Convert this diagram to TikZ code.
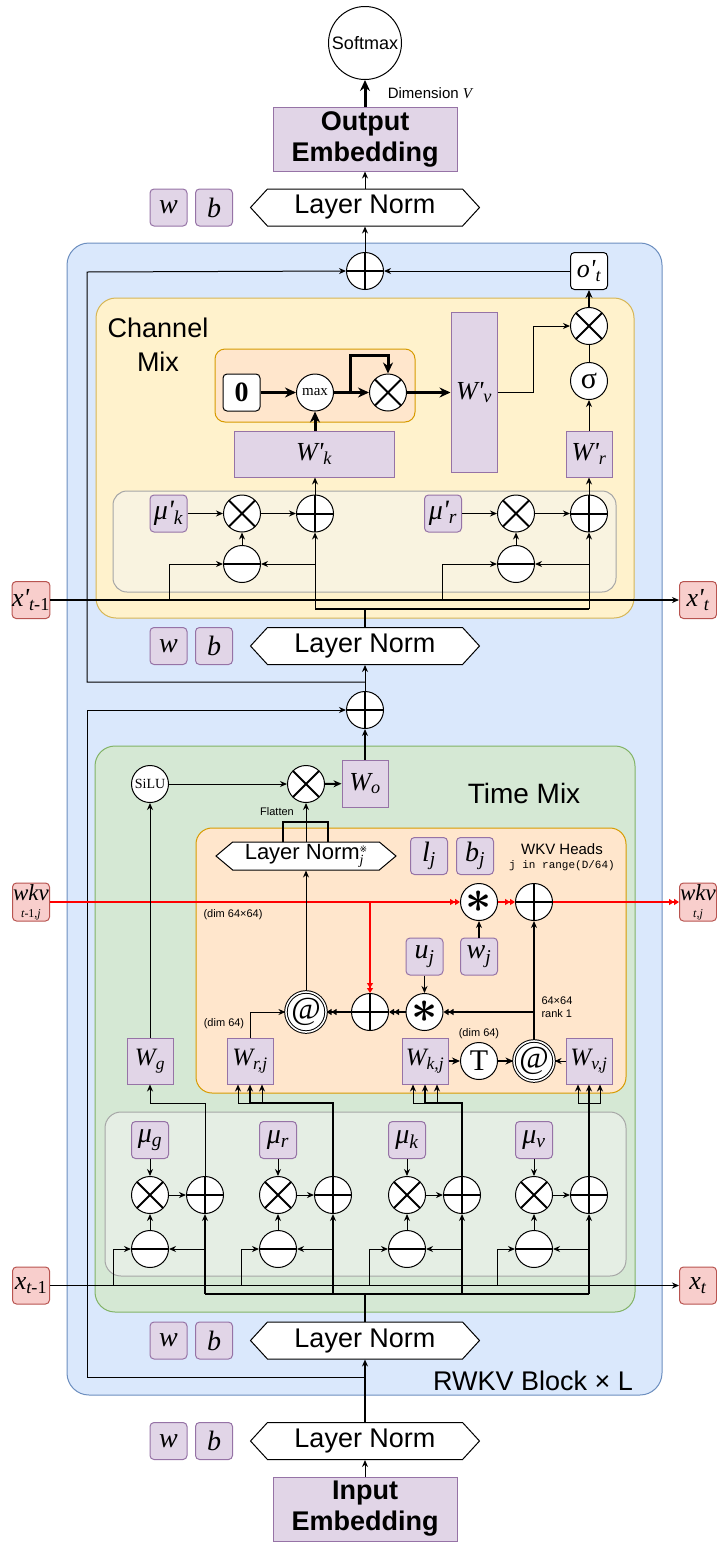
\documentclass[tikz,border=0pt]{standalone}
\usepackage{fontspec}
\setmainfont{Liberation Serif}
\setsansfont{Liberation Sans}
\setmonofont{Liberation Mono}
\newfontfamily\symfnt{DejaVu Sans}
\usetikzlibrary{arrows.meta,shapes.symbols}
\definecolor{blockF}{HTML}{DAE8FC}
\definecolor{blockD}{HTML}{6C8EBF}
\definecolor{chanF}{HTML}{FFF2CC}
\definecolor{chanD}{HTML}{D6B656}
\definecolor{timeF}{HTML}{D5E8D4}
\definecolor{timeD}{HTML}{82B366}
\definecolor{headF}{HTML}{FFE6CC}
\definecolor{headD}{HTML}{D79B00}
\definecolor{mixF}{HTML}{F5F5F5}
\definecolor{parF}{HTML}{E1D5E7}
\definecolor{parD}{HTML}{9673A6}
\definecolor{stF}{HTML}{F8CECC}
\definecolor{stD}{HTML}{B85450}
\newcommand{\fs}[1]{\fontsize{#1}{#1}\selectfont}
\newcommand{\pr}{\textquotesingle}
\newcommand{\bigast}{\scalebox{2.2}{\boldmath$\ast$}}
\tikzset{
  arr/.style={-{Stealth[length=7pt,width=6pt]}, line width=1pt},
  thk/.style={-{Stealth[length=11pt,width=10pt]}, line width=3pt},
  mid/.style={-{Stealth[length=8pt,width=7pt]}, line width=2pt},
  dbl/.style={-{Triangle[length=5pt,width=6pt]Triangle[length=5pt,width=6pt]}, line width=1.2pt},
  param/.style={draw=parD, fill=parF, rounded corners=4pt, minimum width=37pt, minimum height=37pt, inner sep=0pt, font=\fs{28}\itshape},
  weight/.style={draw=parD, fill=parF, inner sep=0pt, font=\fs{26}\itshape},
  statebox/.style={draw=stD, fill=stF, rounded corners=4pt, minimum width=37pt, minimum height=37pt, inner sep=0pt, font=\fs{26}\itshape},
  plainbox/.style={draw, fill=white, rounded corners=4pt, minimum width=37pt, minimum height=37pt, inner sep=0pt},
  opc/.style={circle, draw, fill=white, minimum size=37pt, inner sep=0pt},
  addop/.style={opc, path picture={\draw[line width=2pt] (path picture bounding box.north) -- (path picture bounding box.south) (path picture bounding box.west) -- (path picture bounding box.east);}},
  mulop/.style={opc, path picture={\draw[line width=2pt] (path picture bounding box.north west) -- (path picture bounding box.south east) (path picture bounding box.north east) -- (path picture bounding box.south west);}},
  subop/.style={opc, path picture={\draw[line width=2pt] (path picture bounding box.west) -- (path picture bounding box.east);}},
  atop/.style={opc, double, double distance=1.5pt, font=\fs{32}},
  astop/.style={opc, font=\fs{20}},
  lnorm/.style={signal, signal to=west and east, signal pointer angle=95, draw, fill=white, minimum width=229pt, minimum height=37pt, inner sep=0pt, font=\sffamily\fs{27}},
  txt/.style={font=\sffamily\fs{11}, inner sep=0pt},
}
\begin{document}
\begin{tikzpicture}[x=1pt, y=-1pt, line width=1pt]
  \useasboundingbox (0,0) rectangle (716,1545);
  % Panels
  \draw[blockD, fill=blockF, rounded corners=22pt] (67,243) rectangle (662,1395);
  \draw[chanD, fill=chanF, rounded corners=20pt] (96,298) rectangle (634,618);
  \draw[headD, fill=headF, rounded corners=10pt] (215,349) rectangle (415,422);
  \draw[black!35, fill=mixF, fill opacity=0.5, rounded corners=14pt] (113,491) rectangle (616,592);
  \draw[timeD, fill=timeF, rounded corners=20pt] (95,746) rectangle (635,1312);
  \draw[headD, fill=headF, rounded corners=16pt] (196,828) rectangle (626,1093);
  \draw[black!35, fill=mixF, fill opacity=0.5, rounded corners=16pt] (105,1112) rectangle (626,1276);

  % Output head
  \node[circle, draw, fill=white, minimum size=73pt, inner sep=0pt, font=\sffamily\fs{18}] (softmax) at (365,43) {Softmax};
  \node[anchor=west, font=\sffamily\fs{15}] (dimlbl) at (384,93) {Dimension {\rmfamily\itshape V}};
  \node[weight, minimum width=184pt, minimum height=64pt, align=center, font=\sffamily\bfseries\fontsize{27}{31}\selectfont] (outemb) at (365,139) {Output\\Embedding};
  \node[lnorm] (lntop) at (365,207.5) {Layer Norm};
  \node[param] (wtop) at (168.5,207.5) {w};
  \node[param] (btop) at (214,207.5) {b};

  % Channel mix
  \node[addop] (addtop) at (365,271) {};
  \node[plainbox, font=\fs{26}\itshape] (ot) at (589,271) {o\pr\textsubscript{t}};
  \node[font=\sffamily\fontsize{27}{34}\selectfont, align=center] (chanlbl) at (158,345) {Channel\\Mix};
  \node[plainbox, font=\fs{28}\bfseries] (zero) at (241.5,392.5) {0};
  \node[opc, font=\fs{15}] (maxc) at (315,392.5) {max};
  \node[mulop] (sqmul) at (388,392.5) {};
  \node[weight, minimum width=46pt, minimum height=160pt] (Wv) at (474,392.5) {W\pr\textsubscript{v}};
  \node[weight, minimum width=160pt, minimum height=46pt] (Wk) at (314,454) {W\pr\textsubscript{k}};
  \node[weight, minimum width=46pt, minimum height=46pt] (Wr) at (589,454) {W\pr\textsubscript{r}};
  \node[opc, font=\fs{30}] (sigma) at (589,381) {σ};
  \node[mulop] (gatemul) at (589,326) {};
  \node[param] (mukp) at (168.5,513.5) {μ\pr\textsubscript{k}};
  \node[mulop] (mulkp) at (242,513.5) {};
  \node[addop] (addkp) at (315,513.5) {};
  \node[subop] (subkp) at (242,564) {};
  \node[param] (murp) at (443,513.5) {μ\pr\textsubscript{r}};
  \node[mulop] (mulrp) at (516,513.5) {};
  \node[addop] (addrp) at (589,513.5) {};
  \node[subop] (subrp) at (516,564) {};
  \node[statebox] (xpprev) at (31,600) {x\pr\textsubscript{t\upshape -1}};
  \node[statebox] (xpnext) at (698,600) {x\pr\textsubscript{t}};
  \node[lnorm] (lnc) at (365,646) {Layer Norm};
  \node[param] (wc) at (168.5,646) {w};
  \node[param] (bc) at (214,646) {b};
  \node[addop] (midadd) at (365,710) {};

  % Time mix
  \node[font=\sffamily\fs{28}] (timelbl) at (524,793) {Time Mix};
  \node[opc, font=\fs{14}] (silu) at (150,784) {SiLU};
  \node[mulop] (mulo) at (306,784) {};
  \node[weight, minimum width=46pt, minimum height=47pt] (Wo) at (365,783.5) {W\textsubscript{o}};
  \node[font=\sffamily\fs{11}] (flatlbl) at (277,812) {Flatten};
  \node[lnorm, minimum width=180pt, minimum height=28pt, signal pointer angle=80, font=\sffamily\fs{22}] (lnj) at (306,856) {Layer Norm\rlap{\raisebox{-5pt}{\fs{14}\rmfamily\itshape j}}\raisebox{7pt}{\symfnt\fs{9}※}};
  \node[param] (lj) at (429,856) {l\textsubscript{j}};
  \node[param] (bj) at (475,856) {b\textsubscript{j}};
  \node[font=\sffamily\fs{15}, inner sep=0pt] (headlbl) at (562,849) {WKV Heads};
  \node[font=\ttfamily\fs{11}, inner sep=0pt] (rangelbl) at (562,866) {j in range(D/64)};
  \node[statebox, minimum height=38pt, align=center, font=\fs{23}\itshape] (wkvprev) at (31,902) {wkv\\[-6pt]{\fs{12}t\upshape -1,\itshape j}};
  \node[statebox, minimum height=38pt, align=center, font=\fs{23}\itshape] (wkvnext) at (698,902) {wkv\\[-6pt]{\fs{12}t,j}};
  \node[astop] (astt) at (479,902) {\bigast};
  \node[addop] (addwkv) at (534,902) {};
  \node[param] (wj) at (479,956.5) {w\textsubscript{j}};
  \node[param] (uj) at (424.5,956.5) {u\textsubscript{j}};
  \node[txt] (dimA) at (233,915) {(dim 64×64)};
  \node[atop] (atl) at (306,1012) {@};
  \node[addop] (addm) at (370,1012) {};
  \node[astop] (astm) at (424.5,1012) {\bigast};
  \node[txt, anchor=west] (rankA) at (541,1001) {64×64};
  \node[txt, anchor=west] (rankB) at (541,1014) {rank 1};
  \node[txt] (dimB) at (224,1024) {(dim 64)};
  \node[txt] (dimC) at (479,1034) {(dim 64)};
  \node[weight, minimum size=46pt, font=\fs{25}\itshape] (Wg) at (150,1061) {W\textsubscript{g}};
  \node[weight, minimum size=46pt, font=\fs{25}\itshape] (Wrj) at (250,1061) {W\textsubscript{r,j}};
  \node[weight, minimum size=46pt, font=\fs{25}\itshape] (Wkj) at (425,1061) {W\textsubscript{k,j}};
  \node[opc, font=\fs{30}] (T) at (479,1061) {T};
  \node[atop] (atr) at (534,1061) {@};
  \node[weight, minimum size=46pt, font=\fs{25}\itshape] (Wvj) at (589,1061) {W\textsubscript{v,j}};
  \foreach \n/\cx in {g/150, r/278, k/407, v/534} {
    \node[param] (mu\n) at (\cx,1140) {μ\textsubscript{\n}};
    \node[mulop] (mul\n) at (\cx,1195) {};
    \node[addop] (add\n) at (\cx+55,1195) {};
    \node[subop] (sub\n) at (\cx,1249) {};
  }
  \node[statebox] (xprev) at (31,1285.5) {x\textsubscript{t\upshape -1}};
  \node[statebox] (xnext) at (698,1285.5) {x\textsubscript{t}};

  % Block input
  \node[lnorm] (lnb) at (365,1340.5) {Layer Norm};
  \node[param] (wb) at (168.5,1340.5) {w};
  \node[param] (bb) at (214,1340.5) {b};
  \node[font=\sffamily\fs{27}] (blocklbl) at (533,1381) {RWKV Block × L};
  \node[lnorm] (lnin) at (365,1441) {Layer Norm};
  \node[param] (win) at (168.5,1441) {w};
  \node[param] (bin) at (214,1441) {b};
  \node[weight, minimum width=184pt, minimum height=64pt, align=center, font=\sffamily\bfseries\fontsize{27}{31}\selectfont] (inemb) at (365,1509) {Input\\Embedding};

  % Output connectors
  \draw[thk] (outemb.north) -- (softmax.south);
  \draw[arr] (lntop.north) -- (outemb.south);
  \draw[arr] (addtop.north) -- (lntop.south);
  \draw[arr] (ot.west) -- (addtop.east);
  \draw[arr] (365,682) -| (87,272) -- (addtop.west);

  % Channel mix connectors
  \draw[mid] (gatemul.north) -- (ot.south);
  \draw (sigma.north) -- (gatemul.south);
  \draw[arr] (Wr.north) -- (sigma.south);
  \draw[arr] (Wv.east) -- (533,392.5) |- (gatemul.west);
  \draw[thk] (zero) -- (maxc);
  \draw[thk] (maxc) -- (sqmul);
  \draw[thk] (350,392.5) |- (388,355) -- (sqmul.north);
  \draw[thk] (sqmul) -- (Wv.west);
  \draw[thk] (maxc |- Wk.north) -- (maxc.south);
  \draw[arr] (mukp) -- (mulkp);
  \draw[arr] (mulkp) -- (addkp);
  \draw[arr] (subkp) -- (mulkp);
  \draw[arr] (addkp.north) -- (addkp |- Wk.south);
  \draw[arr] (murp) -- (mulrp);
  \draw[arr] (mulrp) -- (addrp);
  \draw[arr] (subrp) -- (mulrp);
  \draw[arr] (addrp.north) -- (Wr.south);
  \draw[arr, line width=1.4pt] (xpprev) -- (xpnext);
  \draw[arr] (169,600) |- (subkp.west);
  \draw[arr] (442,600) |- (subrp.west);
  \draw[line width=2pt] (lnc.north) -- (365,609);
  \draw[line width=1.4pt] (315,609) -- (589,609);
  \draw[arr] (315,609) -- (addkp.south);
  \draw[arr] (315,564) -- (subkp.east);
  \draw[arr] (589,609) -- (addrp.south);
  \draw[arr] (589,564) -- (subrp.east);
  \draw[arr] (midadd.north) -- (lnc.south);

  % Time mix connectors
  \draw[arr, line width=1.4pt] (Wo.north) -- (midadd.south);
  \draw[arr] (365,1377) -| (87,710) -- (midadd.west);
  \draw[arr] (silu) -- (mulo);
  \draw[mid] (mulo) -- (Wo);
  \draw[arr] (lnj.north) -- (mulo.south);
  \draw[line width=1.2pt] (283,842) |- (328,822) -- (328,842);
  \draw[dbl, red, line width=1.4pt] (wkvprev) -- (astt);
  \draw[dbl, red, line width=1.4pt] (astt) -- (addwkv);
  \draw[dbl, red, line width=1.4pt] (addwkv) -- (wkvnext);
  \draw[dbl, red] (addm |- wkvprev) -- (addm.north);
  \draw[arr, line width=1.5pt] (wj) -- (astt);
  \draw[arr] (uj) -- (astm);
  \draw[arr, line width=1.2pt] (atr.north) -- (addwkv.south);
  \draw[dbl] (atr |- astm) -- (astm.east);
  \draw[dbl] (astm) -- (addm);
  \draw[dbl] (addm) -- (atl);
  \draw[arr] (Wrj.north) |- (atl.west);
  \draw[arr] (atl.north) -- (lnj.south);
  \draw[mid] (Wkj) -- (T);
  \draw[mid] (T) -- (atr);
  \draw[arr] (Wvj) -- (atr);
  \draw[arr] (Wg) -- (silu);

  % Token shift mixing
  \foreach \n in {g,r,k,v} {
    \draw[arr] (mu\n) -- (mul\n);
    \draw[arr] (mul\n) -- (add\n);
    \draw[arr] (sub\n) -- (mul\n);
  }
  \draw[arr, line width=1.4pt] (xprev) -- (xnext);
  \foreach \n/\bx in {g/113, r/241, k/369, v/497}
    \draw[arr] (\bx,1285.5) |- (sub\n.west);
  \draw[line width=2pt] (lnb.north) -- (365,1294);
  \draw[line width=1.5pt] (205,1294) -- (589,1294);
  \foreach \n/\ax in {g/205, r/333, k/462, v/589} {
    \draw[arr, line width=1.3pt] (\ax,1294) -- (add\n.south);
    \draw[arr] (\ax,1249) -- (sub\n.east);
  }
  \draw[arr] (addg.north) -- (205,1103) -| (Wg.south);
  \draw[arr, line width=1.4pt] (addr.north) -- (333,1103) -| (Wrj.south);
  \draw[arr] (250,1103) -| ([xshift=-12pt]Wrj.south);
  \draw[arr] (250,1103) -| ([xshift=12pt]Wrj.south);
  \draw[arr, line width=1.4pt] (addk.north) -- (462,1103) -| (Wkj.south);
  \draw[arr] (425,1103) -| ([xshift=-12pt]Wkj.south);
  \draw[arr] (425,1103) -| ([xshift=12pt]Wkj.south);
  \draw[arr, line width=1.4pt] (addv.north) -- (Wvj.south);
  \draw[arr] (589,1103) -| ([xshift=-11pt]Wvj.south);
  \draw[arr] (589,1103) -| ([xshift=11pt]Wvj.south);

  % Input
  \draw[arr] (inemb.north) -- (lnin.south);
  \draw[arr, line width=1.4pt] (lnin.north) -- (lnb.south);
\end{tikzpicture}
\end{document}
